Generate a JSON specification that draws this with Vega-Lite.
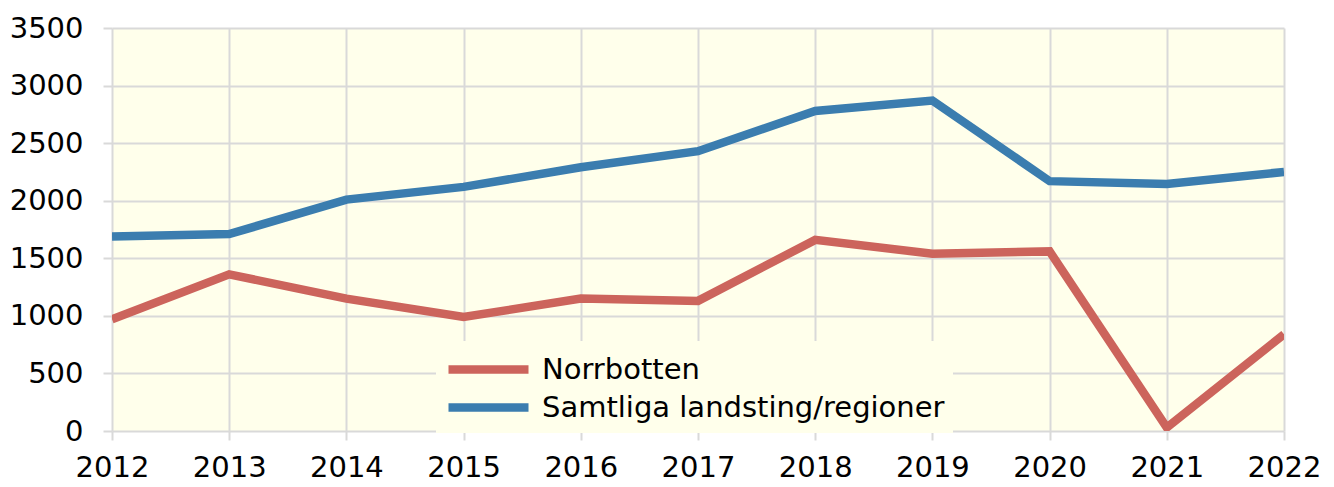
{
  "$schema": "https://vega.github.io/schema/vega-lite/v6.json",
  "width": 1172,
  "height": 403,
  "autosize": "none",
  "padding": {"left": 112, "top": 28, "right": 50, "bottom": 56},
  "background": "white",
  "config": {
    "view": {"fill": "#FFFFEB", "stroke": null},
    "font": "DejaVu Sans"
  },
  "data": {
    "values": [
      {"year": 2012, "series": "Norrbotten", "value": 970},
      {"year": 2013, "series": "Norrbotten", "value": 1360},
      {"year": 2014, "series": "Norrbotten", "value": 1150},
      {"year": 2015, "series": "Norrbotten", "value": 990},
      {"year": 2016, "series": "Norrbotten", "value": 1150},
      {"year": 2017, "series": "Norrbotten", "value": 1130},
      {"year": 2018, "series": "Norrbotten", "value": 1660},
      {"year": 2019, "series": "Norrbotten", "value": 1540},
      {"year": 2020, "series": "Norrbotten", "value": 1560},
      {"year": 2021, "series": "Norrbotten", "value": 30},
      {"year": 2022, "series": "Norrbotten", "value": 840},
      {"year": 2012, "series": "Samtliga landsting/regioner", "value": 1690},
      {"year": 2013, "series": "Samtliga landsting/regioner", "value": 1710},
      {"year": 2014, "series": "Samtliga landsting/regioner", "value": 2010},
      {"year": 2015, "series": "Samtliga landsting/regioner", "value": 2120},
      {"year": 2016, "series": "Samtliga landsting/regioner", "value": 2290},
      {"year": 2017, "series": "Samtliga landsting/regioner", "value": 2430},
      {"year": 2018, "series": "Samtliga landsting/regioner", "value": 2780},
      {"year": 2019, "series": "Samtliga landsting/regioner", "value": 2870},
      {"year": 2020, "series": "Samtliga landsting/regioner", "value": 2170},
      {"year": 2021, "series": "Samtliga landsting/regioner", "value": 2145},
      {"year": 2022, "series": "Samtliga landsting/regioner", "value": 2250}
    ]
  },
  "mark": {"type": "line", "strokeWidth": 8.5, "strokeJoin": "miter", "clip": true},
  "encoding": {
    "x": {
      "field": "year",
      "type": "quantitative",
      "scale": {"domain": [2012, 2022], "nice": false, "zero": false},
      "axis": {
        "title": null,
        "format": "d",
        "values": [2012, 2013, 2014, 2015, 2016, 2017, 2018, 2019, 2020, 2021, 2022],
        "domain": false,
        "grid": true,
        "gridColor": "#D9D9D9",
        "gridWidth": 2,
        "gridOpacity": 1,
        "tickColor": "#D9D9D9",
        "tickWidth": 2,
        "tickSize": 9,
        "labelFontSize": 29,
        "labelColor": "black",
        "labelPadding": 13,
        "labelFlush": false,
        "labelOverlap": false
      }
    },
    "y": {
      "field": "value",
      "type": "quantitative",
      "scale": {"domain": [0, 3500], "nice": false},
      "axis": {
        "title": null,
        "format": "d",
        "values": [0, 500, 1000, 1500, 2000, 2500, 3000, 3500],
        "domain": false,
        "grid": true,
        "gridColor": "#D9D9D9",
        "gridWidth": 2,
        "gridOpacity": 1,
        "tickColor": "#D9D9D9",
        "tickWidth": 2,
        "tickSize": 9,
        "labelFontSize": 29,
        "labelColor": "black",
        "labelPadding": 20
      }
    },
    "color": {
      "field": "series",
      "type": "nominal",
      "scale": {
        "domain": ["Norrbotten", "Samtliga landsting/regioner"],
        "range": ["#CC645C", "#3B7DAF"]
      },
      "legend": {
        "title": null,
        "orient": "none",
        "legendX": 324,
        "legendY": 313,
        "fillColor": "#FFFFEB",
        "padding": 8,
        "symbolType": "M-1,0H4",
        "symbolStrokeWidth": 8.5,
        "symbolSize": 1024,
        "labelFontSize": 29,
        "labelColor": "black",
        "labelOffset": 57,
        "rowPadding": -2,
        "labelLimit": 600
      }
    }
  }
}
